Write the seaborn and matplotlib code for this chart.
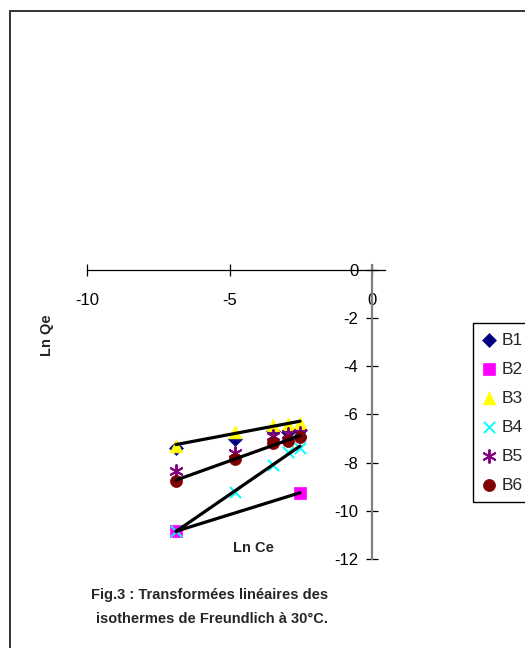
"""Freundlich linear transforms (Ln Qe vs Ln Ce) at 30 C, Excel-style axes crossing at origin."""

import matplotlib

matplotlib.use("Agg")
import matplotlib.pyplot as plt
import numpy as np
import seaborn as sns
from matplotlib.lines import Line2D

# Ln Ce values shared by the series
LN_CE = [-6.88, -4.81, -3.47, -2.95, -2.53]

B1 = [-7.40, -7.00, -6.70, -6.72, -6.65]
B2_X = [-6.88, -2.53]
B2 = [-10.85, -9.25]
B3 = [-7.30, -6.72, -6.43, -6.39, -6.35]
B4 = [-10.85, -9.20, -8.09, -7.55, -7.39]
B5 = [-8.34, -7.60, -6.89, -6.80, -6.76]
B6 = [-8.75, -7.84, -7.18, -7.10, -6.93]

X_TICKS = [-10, -5, 0]
Y_TICKS = [0, -2, -4, -6, -8, -10, -12]

sns.set_style("white")
plt.rcParams["font.family"] = ["Liberation Sans", "DejaVu Sans"]
plt.rcParams["axes.unicode_minus"] = False

fig = plt.figure(figsize=(5.25, 6.48), dpi=100)
W, H = 525, 648
left, right, top, bottom = 87, 385, 265, 559
ax = fig.add_axes([left / W, 1 - bottom / H, (right - left) / W, (bottom - top) / H])

series = [
    ("B1", LN_CE, B1, "D", "#000080", 50),
    ("B2", B2_X, B2, "s", "#FF00FF", 75),
    ("B3", LN_CE, B3, "^", "#FFFF00", 85),
    ("B4", LN_CE, B4, "x", "#00FFFF", 65),
    ("B5", LN_CE, B5, (6, 2, 0), "#800080", 85),
    ("B6", LN_CE, B6, "o", "#800000", 75),
]
for name, xs, ys, marker, color, size in series:
    if marker in ("x", (6, 2, 0)):
        sns.scatterplot(x=xs, y=ys, marker=marker, color=color, s=size, linewidth=1.4,
                        label=name, ax=ax, zorder=3, clip_on=False)
    else:
        sns.scatterplot(x=xs, y=ys, marker=marker, color=color, s=size, edgecolor=color,
                        linewidth=0.5, label=name, ax=ax, zorder=3, clip_on=False)

# linear trendlines
for xs, ys in [(LN_CE, B3), (LN_CE, B6), (LN_CE, B4), (B2_X, B2)]:
    sns.regplot(x=np.array(xs), y=np.array(ys), scatter=False, ci=None, truncate=True,
                color="black", line_kws={"linewidth": 2.3, "zorder": 4}, ax=ax)

ax.set_xlim(-10, 0.45)
ax.set_ylim(-12, 0.2)
ax.set_xticks(X_TICKS)
ax.set_yticks(Y_TICKS)

ax.spines["top"].set_visible(False)
ax.spines["right"].set_visible(False)
ax.spines["left"].set_position(("data", 0))
ax.spines["bottom"].set_position(("data", 0))
ax.spines["left"].set_color("#808080")
ax.spines["left"].set_linewidth(1.6)
ax.spines["bottom"].set_color("black")
ax.spines["bottom"].set_linewidth(0.9)
ax.tick_params(axis="x", bottom=True, direction="inout", length=8, width=0.9, pad=13,
               labelsize=12, colors="black")
ax.tick_params(axis="y", left=True, direction="inout", length=8, width=0.9, pad=6,
               labelsize=12, colors="black")

ax.set_xlabel("Ln Ce", fontsize=10.5, fontweight="bold", va="center")
ax.xaxis.set_label_coords((253 - left) / (right - left), (bottom - 548) / (bottom - top))
ax.set_ylabel("Ln Qe", fontsize=10.5, fontweight="bold", va="center")
ax.yaxis.set_label_coords((47 - left) / (right - left), (bottom - 335) / (bottom - top))

handles, labels = ax.get_legend_handles_labels()
ax.get_legend().remove()
fig.legend(handles, labels, loc="upper left", bbox_to_anchor=(473 / W, 1 - 323 / H),
           frameon=True, fancybox=False, edgecolor="black", framealpha=1,
           fontsize=12.5, labelspacing=0.8, handlelength=0.8, handletextpad=0.3,
           borderpad=0.55, borderaxespad=0)

fig.text(210 / W, 1 - 595 / H, "Fig.3 : Transformées linéaires des", ha="center",
         va="center", fontsize=10.5, fontweight="bold")
fig.text(212 / W, 1 - 619 / H, "isothermes de Freundlich à 30°C.", ha="center",
         va="center", fontsize=10.5, fontweight="bold")

# outer chart frame (left and top edges visible)
fig.add_artist(Line2D([10 / W, 10 / W], [0, 1 - 11 / H], transform=fig.transFigure,
                      color="#333333", linewidth=1.4))
fig.add_artist(Line2D([10 / W, 1], [1 - 11 / H, 1 - 11 / H], transform=fig.transFigure,
                      color="#333333", linewidth=1.4))

fig.savefig("out.png", dpi=100)
